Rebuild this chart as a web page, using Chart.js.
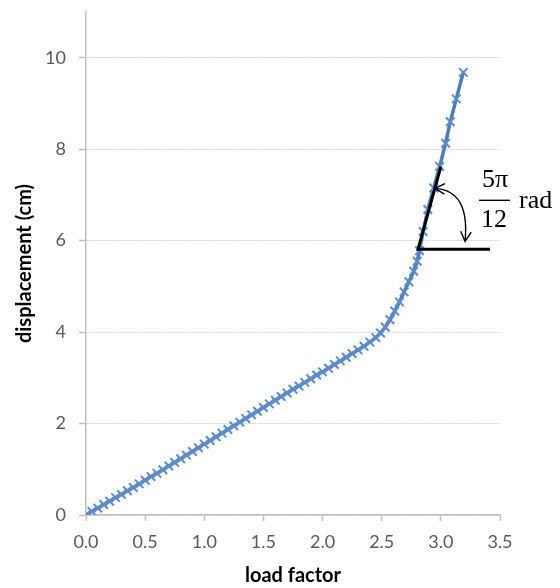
<!DOCTYPE html>
<html lang="en">
<head>
<meta charset="UTF-8">
<title>displacement vs load factor</title>
<script src="https://cdn.jsdelivr.net/npm/chart.js"></script>
<style>
    * { margin: 0; padding: 0; box-sizing: border-box; }
    body { background: #ffffff; width: 560px; height: 588px; overflow: hidden; }
    #wrap { position: relative; width: 560px; height: 588px; }
</style>
</head>
<body>
<div id="wrap">
    <canvas id="loadChart" width="560" height="588"></canvas>
</div>

<script>
// data
const loadFactor = [
    0.00, 0.05, 0.10, 0.15, 0.20, 0.25, 0.30, 0.35, 0.40, 0.45,
    0.50, 0.55, 0.60, 0.65, 0.70, 0.75, 0.80, 0.85, 0.90, 0.95,
    1.00, 1.05, 1.10, 1.15, 1.20, 1.25, 1.30, 1.35, 1.40, 1.45,
    1.50, 1.55, 1.60, 1.65, 1.70, 1.75, 1.80, 1.85, 1.90, 1.95,
    2.00, 2.05, 2.10, 2.15, 2.20, 2.25, 2.30, 2.35, 2.40, 2.45,
    2.49, 2.53, 2.57, 2.61, 2.65, 2.69, 2.73, 2.77, 2.80,
    2.82, 2.85, 2.89, 2.94, 2.99, 3.04, 3.08, 3.13, 3.19
];
const displacement = [
    0.00, 0.08, 0.15, 0.23, 0.30, 0.38, 0.45, 0.53, 0.60, 0.68,
    0.76, 0.84, 0.91, 0.99, 1.07, 1.15, 1.23, 1.31, 1.39, 1.47,
    1.55, 1.63, 1.71, 1.79, 1.87, 1.95, 2.03, 2.11, 2.19, 2.27,
    2.35, 2.43, 2.51, 2.59, 2.67, 2.75, 2.82, 2.90, 2.98, 3.06,
    3.13, 3.21, 3.29, 3.37, 3.45, 3.53, 3.61, 3.69, 3.78, 3.88,
    3.98, 4.11, 4.27, 4.46, 4.66, 4.88, 5.10, 5.33, 5.55,
    5.78, 6.20, 6.68, 7.15, 7.62, 8.13, 8.60, 9.10, 9.68
];
const xTicks = [0, 0.5, 1.0, 1.5, 2.0, 2.5, 3.0, 3.5];
const yTicks = [0, 2, 4, 6, 8, 10];

// angle annotation (data coords): vertex, end of slope line, end of horizontal line
const angleVertex = [2.807, 5.81];
const angleSlopeEnd = [3.0, 7.62];
const angleFlatEndX = 3.415;

const points = loadFactor.map((x, i) => ({ x: x, y: displacement[i] }));

// draws the 5π/12 rad marker on top of the plot
const angleNote = {
    id: 'angleNote',
    afterDatasetsDraw(chart) {
        const ctx = chart.ctx;
        const xs = chart.scales.x, ys = chart.scales.y;
        const vx = xs.getPixelForValue(angleVertex[0]);
        const vy = ys.getPixelForValue(angleVertex[1]);
        const sx = xs.getPixelForValue(angleSlopeEnd[0]);
        const sy = ys.getPixelForValue(angleSlopeEnd[1]);
        const hx = xs.getPixelForValue(angleFlatEndX);

        ctx.save();
        ctx.strokeStyle = '#000000';
        ctx.lineWidth = 3;
        ctx.lineCap = 'butt';
        ctx.beginPath();
        ctx.moveTo(sx, sy);
        ctx.lineTo(vx, vy);
        ctx.lineTo(hx, vy);
        ctx.stroke();

        // curved double arrow
        const p0 = [vx + 17, vy - 61];
        const c = [vx + 52, vy - 59];
        const p2 = [vx + 47, vy - 8];
        ctx.lineWidth = 1.4;
        ctx.beginPath();
        ctx.moveTo(p0[0], p0[1]);
        ctx.quadraticCurveTo(c[0], c[1], p2[0], p2[1]);
        ctx.stroke();

        function head(tip, from) {
            const a = Math.atan2(tip[1] - from[1], tip[0] - from[0]);
            const len = 11, spread = 0.5;
            ctx.beginPath();
            ctx.moveTo(tip[0] - len * Math.cos(a - spread), tip[1] - len * Math.sin(a - spread));
            ctx.lineTo(tip[0], tip[1]);
            ctx.lineTo(tip[0] - len * Math.cos(a + spread), tip[1] - len * Math.sin(a + spread));
            ctx.stroke();
        }
        head(p0, c);
        head(p2, c);

        // label
        ctx.fillStyle = '#000000';
        ctx.font = '26px "Liberation Serif", "DejaVu Serif", serif';
        ctx.textAlign = 'center';
        ctx.textBaseline = 'middle';
        ctx.fillText('5\u03c0', vx + 77, vy - 69);
        ctx.fillText('12', vx + 76, vy - 29);
        ctx.lineWidth = 1.4;
        ctx.beginPath();
        ctx.moveTo(vx + 61, vy - 49);
        ctx.lineTo(vx + 92, vy - 49);
        ctx.stroke();
        ctx.textAlign = 'left';
        ctx.fillText('rad', vx + 101, vy - 48);
        ctx.restore();
    }
};

const tickFont = { family: 'Lato', size: 18 };
const titleFont = { family: 'Lato', size: 20, weight: 'bold' };

new Chart(document.getElementById('loadChart'), {
    type: 'scatter',
    data: {
        datasets: [{
            data: points,
            showLine: true,
            borderColor: '#4a7ebb',
            borderWidth: 3.5,
            pointStyle: 'crossRot',
            pointRadius: 6,
            pointBorderColor: '#5b8bd0',
            pointBorderWidth: 2,
            pointBackgroundColor: '#5b8bd0',
            tension: 0
        }]
    },
    options: {
        responsive: false,
        animation: false,
        layout: { padding: { top: 12, right: 60, left: 0, bottom: 0 } },
        plugins: {
            legend: { display: false },
            tooltip: { enabled: false }
        },
        scales: {
            x: {
                type: 'linear',
                min: 0,
                max: 3.5,
                afterFit: (s) => { s.height = 73; s.paddingLeft = 0; s.paddingRight = 0; },
                afterBuildTicks: (s) => { s.ticks = xTicks.map(v => ({ value: v })); },
                ticks: {
                    color: '#595959',
                    font: tickFont,
                    padding: 10,
                    maxRotation: 0,
                    callback: (v) => Number(v).toFixed(1)
                },
                grid: {
                    drawOnChartArea: false,
                    drawTicks: true,
                    tickLength: 6,
                    tickColor: '#bfbfbf',
                    tickWidth: 1.5
                },
                border: { color: '#bfbfbf', width: 1.5 },
                title: {
                    display: true,
                    text: 'load factor',
                    color: '#000000',
                    font: titleFont,
                    padding: { top: 0, bottom: 0 }
                }
            },
            y: {
                type: 'linear',
                min: 0,
                max: 11,
                afterFit: (s) => { s.width = 86; s.paddingTop = 0; s.paddingBottom = 0; },
                afterBuildTicks: (s) => { s.ticks = yTicks.map(v => ({ value: v })); },
                ticks: {
                    color: '#595959',
                    font: tickFont,
                    padding: 13
                },
                grid: {
                    color: '#d4d4d4',
                    lineWidth: 1,
                    drawTicks: true,
                    tickLength: 7,
                    tickColor: '#bfbfbf',
                    tickWidth: 1.5
                },
                border: { color: '#bfbfbf', width: 1.5, dash: [2, 1] },
                title: {
                    display: true,
                    text: 'displacement (cm)',
                    color: '#000000',
                    font: titleFont,
                    padding: { top: 13, bottom: 0 }
                }
            }
        }
    },
    plugins: [angleNote]
});
</script>
</body>
</html>
